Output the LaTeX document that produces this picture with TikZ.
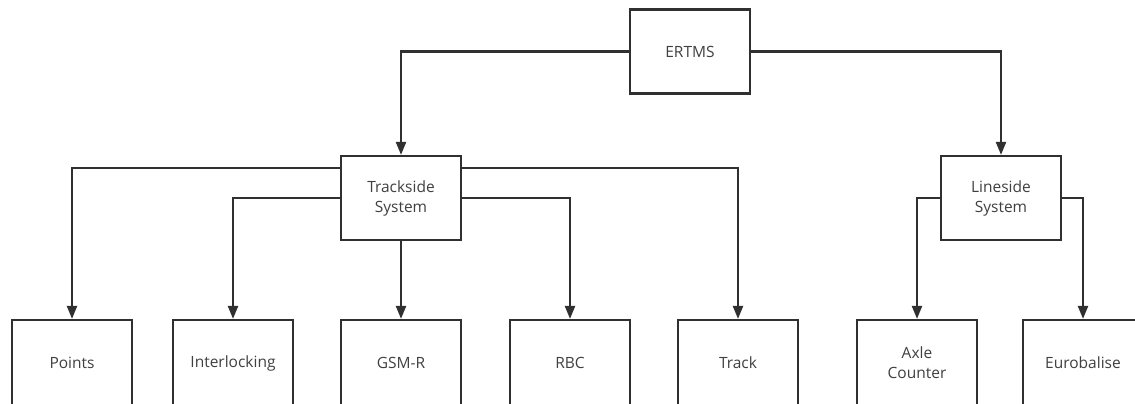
\documentclass[tikz,border=0pt]{standalone}
\usepackage{fontspec}
\setmainfont{Open Sans}
\usetikzlibrary{arrows.meta}
\definecolor{linec}{HTML}{303030}
\definecolor{textc}{HTML}{404040}
\begin{document}
\begin{tikzpicture}[x=1pt,y=-1pt,
  box/.style={draw=linec, line width=2.2pt, fill=white, minimum width=120pt,
    minimum height=84pt, inner sep=0pt, align=center,
    font=\fontsize{15.5}{20}\selectfont, text=textc},
  leaf/.style={box, minimum height=86pt},
  link/.style={draw=linec, line width=2.2pt, -{Triangle[length=13pt,width=10pt]}}]
\useasboundingbox (0,0) rectangle (1135,404);
\clip (0,0) rectangle (1135,404);

% top level
\node[box] (ertms) at (690,51.5) {ERTMS};

% second level
\node[box] (ts) at (401,198) {Trackside\\System};
\node[box] (ls) at (1001,198) {Lineside\\System};

% leaves
\node[leaf] (points) at (72,363)   {Points};
\node[leaf] (inter)  at (233,363)  {Interlocking};
\node[leaf] (gsm)    at (401,363)  {GSM-R};
\node[leaf] (rbc)    at (570,363)  {RBC};
\node[leaf] (track)  at (738,363)  {Track};
\node[leaf] (axle)   at (917,363)  {Axle\\Counter};
\node[leaf] (euro)   at (1083,363) {Eurobalise};

% connectors
\draw[link] (ertms.west) -| (ts.north);
\draw[link] (ertms.east) -| (ls.north);
\draw[link] ([yshift=30pt]ts.west) -| (points.north);
\draw[link] (ts.west) -| (inter.north);
\draw[link] (ts.south) -- (gsm.north);
\draw[link] (ts.east) -| (rbc.north);
\draw[link] ([yshift=30pt]ts.east) -| (track.north);
\draw[link] (ls.west) -| (axle.north);
\draw[link] (ls.east) -| (euro.north);
\end{tikzpicture}
\end{document}
